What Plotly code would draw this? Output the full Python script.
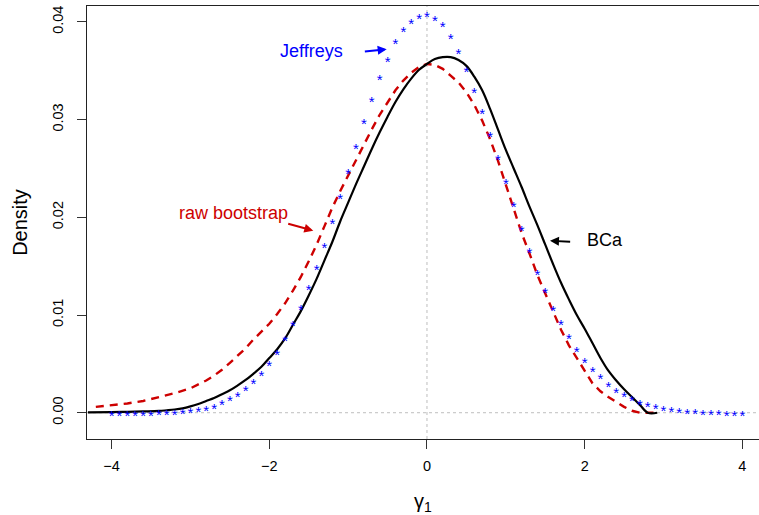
import plotly.graph_objects as go

# ---------------- data ----------------
jeff_x = [round(-4.0 + 0.1 * i, 1) for i in range(81)]
jeff_y = [
    0.00000, 0.00000, 0.00003, 0.00004, 0.00005, 0.00006, 0.00008, 0.00011, 0.00015, 0.00021,
    0.00030, 0.00040, 0.00055, 0.00075, 0.00115, 0.00160, 0.00200, 0.00260, 0.00330, 0.00410,
    0.00510, 0.00630, 0.00770, 0.00920, 0.01090, 0.01290, 0.01500, 0.01720, 0.01970, 0.02220,
    0.02480, 0.02740, 0.02990, 0.03220, 0.03440, 0.03630, 0.03810, 0.03930, 0.04020, 0.04070,
    0.04090,
    0.04050, 0.03980, 0.03860, 0.03710, 0.03520, 0.03310, 0.03090, 0.02860, 0.02620, 0.02380,
    0.02140, 0.01900, 0.01670, 0.01450, 0.01260, 0.01080, 0.00930, 0.00790, 0.00660, 0.00550,
    0.00450, 0.00380, 0.00300, 0.00240, 0.00200, 0.00160, 0.00120, 0.00090, 0.00070, 0.00050,
    0.00040, 0.00030, 0.00025, 0.00020, 0.00015, 0.00010, 0.00008, 0.00005, 0.00003, 0.00002,
]

bca_x = [-4.3, -4.0, -3.8, -3.6, -3.4, -3.3, -3.2, -3.1, -3.0, -2.9, -2.8, -2.7, -2.6, -2.5,
         -2.4, -2.3, -2.2, -2.1, -2.0, -1.9, -1.8, -1.7, -1.6, -1.5, -1.4, -1.3, -1.2, -1.1,
         -1.0, -0.9, -0.8, -0.7, -0.6, -0.5, -0.4, -0.3, -0.2, -0.1, 0.0, 0.1, 0.2, 0.3, 0.4,
         0.5, 0.6, 0.7, 0.8, 0.9, 1.0, 1.1, 1.2, 1.3, 1.4, 1.5, 1.6, 1.7, 1.8, 1.9, 2.0, 2.1,
         2.2, 2.3, 2.4, 2.5, 2.6, 2.7, 2.8, 2.92]
bca_y = [0.00004, 0.00006, 0.00009, 0.00013, 0.00018, 0.00025, 0.00033, 0.00045, 0.00065,
         0.00090, 0.00120, 0.00150, 0.00190, 0.00230, 0.00280, 0.00335, 0.00400, 0.00470,
         0.00560, 0.00650, 0.00760, 0.00900, 0.01040, 0.01200, 0.01370, 0.01560, 0.01750,
         0.01960, 0.02150, 0.02340, 0.02520, 0.02700, 0.02870, 0.03030, 0.03180, 0.03310,
         0.03420, 0.03510, 0.03570, 0.03620, 0.03640, 0.03640, 0.03610, 0.03550, 0.03440,
         0.03300, 0.03110, 0.02900, 0.02690, 0.02500, 0.02310, 0.02110, 0.01920, 0.01720,
         0.01520, 0.01330, 0.01160, 0.01000, 0.00860, 0.00710, 0.00560, 0.00430, 0.00330,
         0.00240, 0.00160, 0.00080, 0.00000, 0.00000]

raw_x = [-4.2, -4.0, -3.8, -3.6, -3.4, -3.2, -3.0, -2.9, -2.8, -2.7, -2.6, -2.5, -2.4, -2.3,
         -2.2, -2.1, -2.0, -1.9, -1.8, -1.7, -1.6, -1.5, -1.4, -1.3, -1.2, -1.1, -1.0, -0.9,
         -0.8, -0.7, -0.6, -0.5, -0.4, -0.3, -0.2, -0.1, 0.0, 0.1, 0.2, 0.3, 0.4, 0.5, 0.6,
         0.7, 0.8, 0.9, 1.0, 1.1, 1.2, 1.3, 1.4, 1.5, 1.6, 1.7, 1.8, 1.9, 2.0, 2.1, 2.2, 2.3,
         2.4, 2.5, 2.6, 2.7, 2.8, 2.9]
raw_y = [0.00060, 0.00075, 0.00095, 0.00120, 0.00160, 0.00200, 0.00250, 0.00290, 0.00330,
         0.00380, 0.00440, 0.00510, 0.00580, 0.00660, 0.00750, 0.00830, 0.00910, 0.01010,
         0.01120, 0.01250, 0.01390, 0.01550, 0.01720, 0.01910, 0.02100, 0.02270, 0.02430,
         0.02590, 0.02740, 0.02900, 0.03050, 0.03180, 0.03300, 0.03400, 0.03480, 0.03540,
         0.03570, 0.03560, 0.03520, 0.03450, 0.03380, 0.03280, 0.03150, 0.02990, 0.02800,
         0.02580, 0.02340, 0.02080, 0.01840, 0.01630, 0.01410, 0.01220, 0.01030, 0.00850,
         0.00690, 0.00560, 0.00420, 0.00300, 0.00220, 0.00160, 0.00110, 0.00060, 0.00020,
         0.00000, 0.00000, 0.00000]

x_ticks = [-4, -2, 0, 2, 4]
y_ticks = [0.00, 0.01, 0.02, 0.03, 0.04]
y_tick_text = ["0.00", "0.01", "0.02", "0.03", "0.04"]

BLUE = "#0000FF"
RED = "#CD0000"
FONT = "Liberation Sans, Arial, sans-serif"

Y_RANGE = [-0.00269, 0.04163]
STAR_SIZE = 15
# the "*" glyph sits above the text anchor; an overlaid axis shifted by that
# glyph offset (about 0.32 em) centres every star on its data value
STAR_SHIFT = 0.32 * STAR_SIZE * (Y_RANGE[1] - Y_RANGE[0]) / 433.0

fig = go.Figure()

fig.add_trace(go.Scatter(
    x=raw_x, y=raw_y, mode="lines",
    line=dict(color=RED, width=2.4, dash="8px,6px"),
    hoverinfo="skip"))

fig.add_trace(go.Scatter(
    x=bca_x, y=bca_y, mode="lines", line_shape="spline",
    line=dict(color="black", width=2.2),
    hoverinfo="skip"))

fig.add_trace(go.Scatter(
    x=jeff_x, y=jeff_y, mode="text", text=["*"] * len(jeff_x), yaxis="y2",
    textposition="middle center",
    textfont=dict(color=BLUE, size=STAR_SIZE, family=FONT),
    hoverinfo="skip"))

# reference lines (abline h=0, v=0, dotted grey)
fig.add_shape(type="line", xref="paper", yref="y", x0=0, x1=1, y0=0, y1=0,
              line=dict(color="#BEBEBE", width=1, dash="dot"), layer="below")
fig.add_shape(type="line", xref="x", yref="paper", x0=0, x1=0, y0=0, y1=1,
              line=dict(color="#BEBEBE", width=1, dash="dot"), layer="below")

annots = [
    dict(text="Jeffreys", x=-1.46, y=0.0370, color=BLUE),
    dict(text="raw bootstrap", x=-2.46, y=0.0204, color=RED),
    dict(text="BCa", x=2.254, y=0.0177, color="black"),
]
for a in annots:
    fig.add_annotation(x=a["x"], y=a["y"], xref="x", yref="y", text=a["text"],
                       showarrow=False, xanchor="center", yanchor="middle",
                       font=dict(size=18, color=a["color"], family=FONT))

arrows = [
    dict(tx=-0.807, ty=0.03695, hx=-0.511, hy=0.0372, color=BLUE),
    dict(tx=-1.779, ty=0.01939, hx=-1.442, hy=0.01863, color=RED),
    dict(tx=1.835, ty=0.0175, hx=1.560, hy=0.0176, color="black"),
]
for a in arrows:
    fig.add_annotation(x=a["hx"], y=a["hy"], ax=a["tx"], ay=a["ty"],
                       xref="x", yref="y", axref="x", ayref="y", text="",
                       showarrow=True, arrowhead=2, arrowsize=0.9, arrowwidth=2,
                       arrowcolor=a["color"], standoff=0, startstandoff=0)

fig.update_layout(
    width=759, height=515,
    margin=dict(l=87, r=0, t=6, b=76),
    paper_bgcolor="white", plot_bgcolor="white",
    showlegend=False,
    font=dict(family=FONT, color="black", size=14.5),
    xaxis=dict(
        range=[-4.312, 4.211], tickvals=x_ticks, ticks="outside", ticklen=9,
        tickcolor="#333333", tickwidth=1,
        showline=True, linecolor="#222222", linewidth=1, mirror=True,
        showgrid=False, zeroline=False, ticklabelstandoff=5,
        tickfont=dict(size=14.5, family=FONT),
        title=dict(text="γ<sub>1</sub>", font=dict(size=20, family=FONT), standoff=21),
    ),
    yaxis=dict(
        range=Y_RANGE, tickvals=y_ticks, ticktext=y_tick_text,
        ticks="outside", ticklen=9, tickcolor="#333333", tickwidth=1,
        showline=True, linecolor="#222222", linewidth=1, mirror=False,
        showgrid=False, zeroline=False, tickangle=-90, ticklabelstandoff=8,
        tickfont=dict(size=14.5, family=FONT),
        title=dict(text="Density", font=dict(size=20, family=FONT), standoff=17),
    ),
    yaxis2=dict(
        range=[Y_RANGE[0] + STAR_SHIFT, Y_RANGE[1] + STAR_SHIFT],
        overlaying="y", visible=False, showgrid=False, zeroline=False,
    ),
)

fig.write_html("out.html")
